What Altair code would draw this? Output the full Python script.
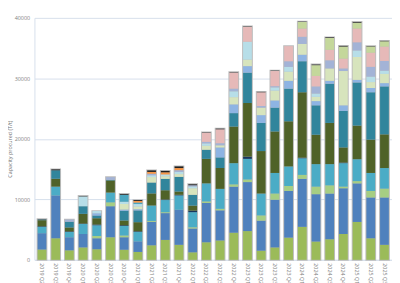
import altair as alt
import pandas as pd

quarters = ["2019 Q2", "2019 Q3", "2019 Q4",
            "2020 Q1", "2020 Q2", "2020 Q3", "2020 Q4",
            "2021 Q1", "2021 Q2", "2021 Q3", "2021 Q4",
            "2022 Q1", "2022 Q2", "2022 Q3", "2022 Q4",
            "2023 Q1", "2023 Q2", "2023 Q3", "2023 Q4",
            "2024 Q1", "2024 Q2", "2024 Q3", "2024 Q4",
            "2025 Q1", "2025 Q2", "2025 Q3"]

s01 = [1700, 3560, 1570, 2050, 1730, 3730, 1670, 1300, 2400, 3290, 2480, 1240, 2900, 3200, 4480, 4750, 1510, 2050, 3670, 5450, 3020, 3400, 4270, 6260, 3560, 2480]
s02 = [2700, 7080, 2160, 2220, 1830, 5130, 2060, 1750, 3880, 4430, 5790, 3940, 6500, 4980, 7620, 8100, 4970, 7890, 7720, 7940, 7830, 7560, 7560, 6380, 6750, 7830]
s03 = [0, 0, 0, 0, 380, 640, 270, 0, 150, 150, 0, 200, 250, 250, 370, 430, 860, 1020, 810, 650, 1250, 1350, 270, 370, 1080, 1460]
s04 = [1050, 1460, 870, 1650, 1780, 1620, 1600, 1570, 2550, 2010, 2380, 2500, 2990, 3300, 3510, 3410, 3620, 3400, 3240, 2750, 3720, 3510, 3880, 3620, 2970, 3400]
s05 = [100, 0, 100, 80, 100, 0, 100, 100, 0, 100, 100, 250, 0, 0, 0, 370, 0, 0, 0, 100, 0, 0, 100, 0, 0, 0]
s06 = [1000, 1300, 650, 1600, 1040, 2000, 780, 1500, 2000, 1520, 540, 830, 4050, 3450, 6050, 8860, 7020, 6860, 7460, 10810, 4860, 6810, 2500, 5560, 5510, 5570]
s07 = [100, 1400, 950, 1260, 480, 100, 1620, 1950, 1800, 1890, 2430, 1790, 1510, 1750, 2220, 5020, 4650, 3940, 5400, 5130, 4860, 6480, 6040, 7130, 7830, 7930]
s08 = [0, 0, 0, 0, 360, 0, 200, 200, 0, 0, 0, 0, 0, 1650, 1450, 1080, 1290, 1190, 1290, 1080, 700, 480, 920, 430, 700, 540]
s09 = [0, 0, 0, 0, 0, 0, 930, 450, 900, 430, 450, 1080, 650, 350, 1190, 1080, 1240, 1620, 1510, 1780, 700, 2050, 5670, 3780, 980, 1520]
s10 = [0, 0, 0, 1620, 350, 0, 370, 400, 300, 300, 350, 300, 400, 0, 970, 2960, 0, 540, 800, 0, 550, 0, 0, 1080, 910, 540]
s11 = [0, 0, 0, 0, 0, 0, 1150, 250, 0, 0, 0, 0, 0, 0, 0, 0, 0, 0, 0, 0, 0, 0, 0, 0, 0, 0]
s12 = [0, 0, 340, 0, 0, 440, 0, 0, 250, 0, 300, 200, 250, 350, 440, 0, 270, 200, 930, 1190, 1180, 1350, 430, 1350, 1620, 1610]
s13 = [0, 0, 0, 0, 0, 0, 0, 0, 0, 0, 0, 0, 1500, 2300, 2640, 2440, 2270, 2500, 2490, 1350, 1730, 1730, 1620, 2270, 2330, 2380]
s14 = [0, 0, 0, 0, 0, 0, 0, 0, 0, 0, 0, 0, 0, 0, 0, 0, 0, 0, 0, 1080, 1780, 1950, 2000, 970, 1020, 870]
s15 = [0, 0, 0, 0, 0, 0, 0, 250, 300, 350, 350, 0, 0, 0, 0, 0, 0, 0, 0, 0, 0, 0, 0, 0, 0, 0]
s16 = [50, 150, 0, 60, 0, 0, 150, 150, 250, 220, 270, 150, 60, 100, 60, 60, 60, 60, 0, 60, 100, 100, 100, 110, 60, 60]

series_names = ["S01", "S02", "S03", "S04", "S05", "S06", "S07", "S08",
                "S09", "S10", "S11", "S12", "S13", "S14", "S15", "S16"]
series_values = [s01, s02, s03, s04, s05, s06, s07, s08,
                 s09, s10, s11, s12, s13, s14, s15, s16]
series_colors = ["#9BBB59", "#4F81BD", "#A6CE83", "#4BACC6", "#17375E", "#4F6228",
                 "#31859C", "#8EB4E3", "#D7E4BD", "#B7DEE8", "#4AA6C0", "#A3B3D6",
                 "#E6B9B8", "#C4D79B", "#F79646", "#1F1F1F"]

y_title = "Capacity procured (T/t)"
y_ticks = [0, 5000, 10000, 15000, 20000, 25000, 30000, 35000, 40000]

rows = []
for si, (name, vals) in enumerate(zip(series_names, series_values)):
    for q, v in zip(quarters, vals):
        if v > 0:
            rows.append({"quarter": q, "series": name, "idx": si, "value": v})
df = pd.DataFrame(rows)

grid_col = "#d6dfec"
txt_col = "#808080"

x_enc = alt.X("quarter:N", sort=quarters,
              scale=alt.Scale(paddingInner=0.36, paddingOuter=0.23),
              axis=alt.Axis(title=None, labelAngle=90, labelFontSize=5.5,
                            labelColor=txt_col, ticks=False, labelPadding=3,
                            domainColor=grid_col, grid=False))
y_scale = alt.Scale(domain=[0, 40000], nice=False)

shadow = alt.Chart(df).transform_aggregate(
    total="sum(value)", groupby=["quarter"]
).mark_bar(color="#bcbcbc", stroke="#bcbcbc", strokeWidth=2).encode(
    x=x_enc,
    y=alt.Y("total:Q", scale=y_scale),
)

bars = alt.Chart(df).mark_bar().encode(
    x=x_enc,
    y=alt.Y("value:Q", stack="zero", scale=y_scale,
            axis=alt.Axis(title=None, values=y_ticks, format="d",
                          labelFontSize=5.5, labelColor=txt_col, ticks=False,
                          labelPadding=5,
                          gridColor=grid_col, domainColor=grid_col)),
    color=alt.Color("series:N", scale=alt.Scale(domain=series_names, range=series_colors),
                    legend=None),
    order=alt.Order("idx:Q", sort="ascending"),
)

title_txt = alt.Chart(pd.DataFrame({"t": [y_title]})).mark_text(
    angle=270, align="center", baseline="middle", fontSize=5.5, color="#707070"
).encode(text="t:N", x=alt.value(-25), y=alt.value(134))

chart = alt.layer(shadow, bars, title_txt).properties(
    width=365, height=247,
    autosize=alt.AutoSizeParams(type="none"),
    padding={"left": 27, "top": 7, "right": 0, "bottom": 40},
).configure(font="Open Sans").configure_view(stroke=None)

chart.save("out.html", embed_options={"renderer": "svg", "actions": False})
